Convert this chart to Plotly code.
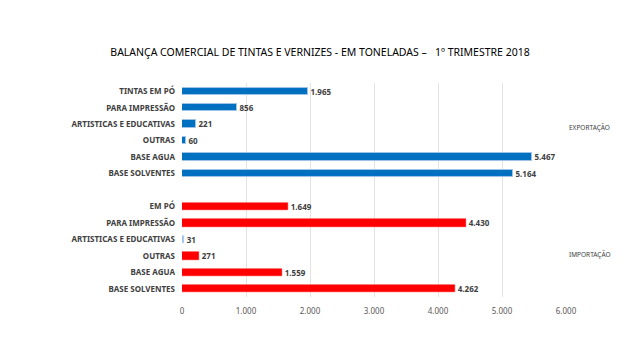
import plotly.graph_objects as go

export_cats = ["TINTAS EM PÓ", "PARA IMPRESSÃO", "ARTISTICAS E EDUCATIVAS", "OUTRAS", "BASE AGUA", "BASE SOLVENTES"]
export_vals = [1965, 856, 221, 60, 5467, 5164]
import_cats = ["EM PÓ", "PARA IMPRESSÃO", "ARTISTICAS E EDUCATIVAS", "OUTRAS", "BASE AGUA", "BASE SOLVENTES"]
import_vals = [1649, 4430, 31, 271, 1559, 4262]
x_ticks = [0, 1000, 2000, 3000, 4000, 5000, 6000]

exp_pos = list(range(len(export_cats)))
imp_pos = [len(export_cats) + 1 + i for i in range(len(import_cats))]

def fmt(v):
    return f"{v:,}".replace(",", ".")

lab_font = dict(family="Noto Sans", size=8, color="#404040", weight="bold")

fig = go.Figure()
fig.add_trace(go.Bar(
    y=exp_pos, x=export_vals, orientation="h", width=0.45,
    marker=dict(color="#0070C0", line=dict(color="#9DC3E6", width=1)),
    text=[fmt(v) for v in export_vals], textposition="outside", constraintext="none",
    textfont=lab_font, cliponaxis=False, showlegend=False,
))
imp_colors = ["#FF0000" if v > 100 else "#9DC3E6" for v in import_vals]
fig.add_trace(go.Bar(
    y=imp_pos, x=import_vals, orientation="h", width=0.45,
    marker=dict(color=imp_colors, line=dict(color=imp_colors, width=0.5)),
    text=[fmt(v) for v in import_vals], textposition="outside", constraintext="none",
    textfont=lab_font, cliponaxis=False, showlegend=False,
))

fig.add_annotation(x=6000, y=2.2, xref="x", yref="y", text="EXPORTAÇÃO", showarrow=False,
                   xanchor="left", xshift=1, font=dict(family="Noto Sans", size=6.5, color="#404040"))
fig.add_annotation(x=6000, y=9.9, xref="x", yref="y", text="IMPORTAÇÃO", showarrow=False,
                   xanchor="left", xshift=1, font=dict(family="Noto Sans", size=6.5, color="#404040"))

fig.update_layout(
    width=640, height=360,
    margin=dict(l=174, r=82, t=75, b=71, autoexpand=False),
    paper_bgcolor="white", plot_bgcolor="white",
    separators=",.",
    bargap=0,
    title=dict(text="BALANÇA COMERCIAL DE TINTAS E VERNIZES - EM TONELADAS –   1º TRIMESTRE 2018",
               x=312 / 640, xanchor="center", y=1 - 44 / 360, yanchor="middle",
               font=dict(family="Noto Sans", size=10.5, color="#000000")),
    xaxis=dict(range=[0, 6000], tickvals=x_ticks, tickformat=",d", automargin=False,
               showgrid=True, gridcolor="#E3E3E3", gridwidth=1, zeroline=False,
               showline=False, ticks="", ticklabelstandoff=8,
               tickfont=dict(family="Noto Sans", size=8, color="#595959")),
    yaxis=dict(range=[12.5, -0.5], tickvals=exp_pos + imp_pos, ticktext=export_cats + import_cats,
               showgrid=False, zeroline=False, showline=False, ticks="", automargin=False,
               ticklabelstandoff=6,
               tickfont=dict(family="Noto Sans", size=8, color="#404040", weight="bold")),
)

fig.write_html("out.html")
